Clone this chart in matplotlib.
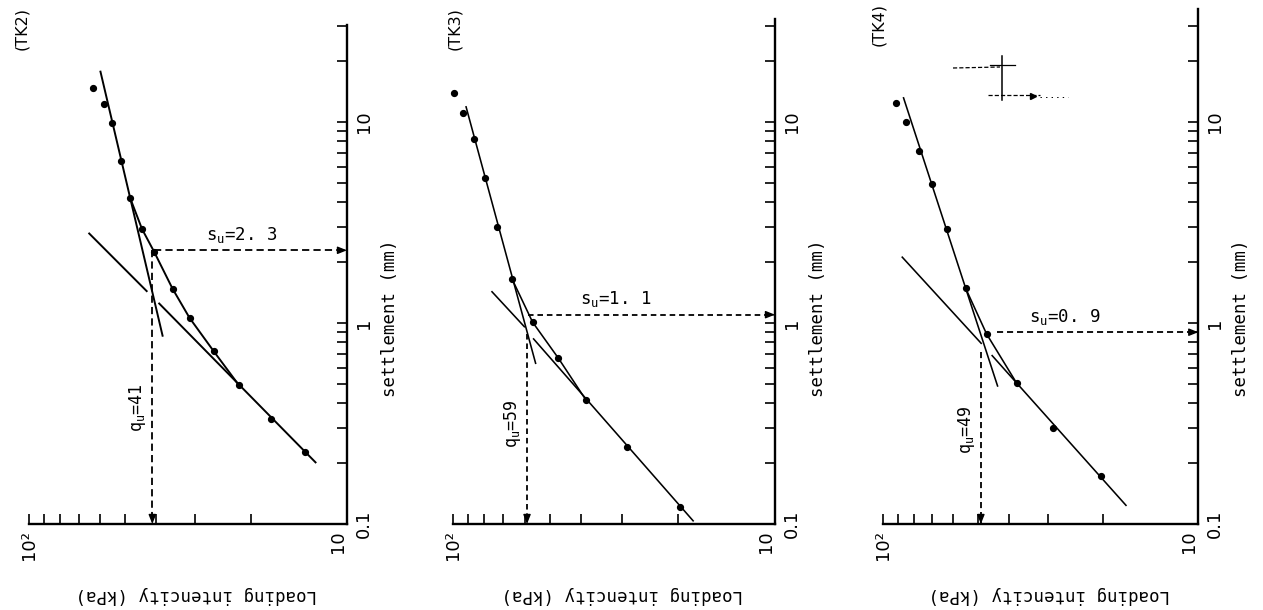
import numpy as np
import matplotlib
matplotlib.use("Agg")
import matplotlib.pyplot as plt
from matplotlib import font_manager as fm
from matplotlib import transforms as mtrans
from matplotlib.lines import Line2D
from matplotlib.ticker import NullFormatter

# ---------------- data ----------------
panel_names = ["(TK2)", "(TK3)", "(TK4)"]

# loading intensity q (kPa) and settlement s (mm) at each loading step
tk2_q = [63.1, 58.4, 55.0, 51.5, 48.1, 44.2, 40.4, 35.4, 31.3, 26.3, 21.9, 17.3, 13.6]
tk2_s = [14.7, 12.3, 9.86, 6.42, 4.17, 2.94, 2.25, 1.48, 1.06, 0.725, 0.491, 0.332, 0.229]
tk3_q = [99.5, 93.6, 86.3, 79.8, 73.1, 65.6, 56.7, 47.1, 38.7, 28.9, 19.8]
tk3_s = [14.0, 11.1, 8.19, 5.25, 3.01, 1.65, 1.01, 0.667, 0.414, 0.241, 0.121]
tk4_q = [91.2, 84.7, 77.1, 70.2, 62.9, 54.8, 47.0, 37.7, 29.0, 20.3]
tk4_s = [12.4, 9.97, 7.20, 4.90, 2.92, 1.49, 0.882, 0.501, 0.299, 0.174]

# straight branch fitted to the large-load steps (end points)
tk2_fit_hi_q = [59.8, 38.0]
tk2_fit_hi_s = [18.0, 0.855]
tk3_fit_hi_q = [91.4, 55.4]
tk3_fit_hi_s = [12.0, 0.625]
tk4_fit_hi_q = [86.4, 43.3]
tk4_fit_hi_s = [13.3, 0.482]

# straight branch fitted to the small-load steps, drawn in two pieces
tk2_fit_lo_q = [[65.1, 42.5], [39.2, 12.5]]
tk2_fit_lo_s = [[2.81, 1.43], [1.26, 0.201]]
tk3_fit_lo_q = [[76.1, 59.9], [56.5, 17.9]]
tk3_fit_lo_s = [[1.44, 0.952], [0.839, 0.103]]
tk4_fit_lo_q = [[87.4, 48.7], [45.3, 16.9]]
tk4_fit_lo_s = [[2.14, 0.787], [0.693, 0.123]]

# steps joined by the transition curve (slice start, stop)
tk2_curve = (4, 11)
tk3_curve = (5, 9)
tk4_curve = (5, 8)

# yield load q_u (kPa) and yield settlement s_u (mm)
qu_values = [41, 59, 49]
su_values = [2.3, 1.1, 0.9]
qu_labels = ["41", "59", "49"]
su_labels = ["2. 3", "1. 1", "0. 9"]
# where the guide lines leave the curves
su_start_q = [40.4, 58.5, 43.6]
qu_start_s = [2.3, 0.88, 0.72]

# settlement axis upper limits
s_top = [30.4, 32.5, 36.4]

q_major = [100, 10]
q_major_labels = ["10\u00b2", "10"]
q_minor = [20, 30, 40, 50, 60, 70, 80, 90]
s_major = [0.1, 1, 10]
s_major_labels = ["0.1", "1", "10"]
s_minor = [0.2, 0.3, 0.4, 0.5, 0.6, 0.7, 0.8, 0.9, 2, 3, 4, 5, 6, 7, 8, 9, 20, 30]

# ---------------- style ----------------
names = {f.name for f in fm.fontManager.ttflist}
NARROW = "Liberation Sans Narrow" if "Liberation Sans Narrow" in names else "DejaVu Sans"
MONO = "DejaVu Sans Mono"
plt.rcParams["mathtext.fontset"] = "custom"
plt.rcParams["mathtext.rm"] = MONO
plt.rcParams["mathtext.it"] = MONO
plt.rcParams["lines.scale_dashes"] = False

W, H = 1263, 610
DEC_PX = 201.0          # pixels per settlement decade
BOTTOM_PX = 524.0       # loading axis position from the top edge
panel_left = [29.3, 453.3, 883.3]
panel_width = [317.7, 321.7, 315.0]
line_w = [1.4, 1.15, 1.15]
dash = [(0, (5.2, 3.0)), (0, (4.0, 2.8)), (0, (4.4, 2.8))]
su_text_q = [21.4, 31.2, 26.5]
qu_text_s = [0.378, 0.314, 0.294]
title_xy = [(22, 29), (455, 29), (879, 24)]

datasets = [
    (tk2_q, tk2_s, tk2_fit_hi_q, tk2_fit_hi_s, tk2_fit_lo_q, tk2_fit_lo_s, tk2_curve),
    (tk3_q, tk3_s, tk3_fit_hi_q, tk3_fit_hi_s, tk3_fit_lo_q, tk3_fit_lo_s, tk3_curve),
    (tk4_q, tk4_s, tk4_fit_hi_q, tk4_fit_hi_s, tk4_fit_lo_q, tk4_fit_lo_s, tk4_curve),
]

fig = plt.figure(figsize=(W / 100, H / 100), dpi=100)
fig.patch.set_facecolor("white")

for i, (q, s, hq, hs, lq, ls, crv) in enumerate(datasets):
    height_px = DEC_PX * np.log10(s_top[i] / 0.1)
    ax = fig.add_axes([panel_left[i] / W, (H - BOTTOM_PX) / H,
                       panel_width[i] / W, height_px / H])
    ax.set_xscale("log")
    ax.set_yscale("log")
    ax.set_xlim(100, 10)
    ax.set_ylim(0.1, s_top[i])
    ax.patch.set_alpha(0)
    for side in ("left", "top"):
        ax.spines[side].set_visible(False)
    for side in ("right", "bottom"):
        ax.spines[side].set_linewidth(1.7)

    # ticks
    ax.yaxis.tick_right()
    ax.set_xticks(q_major)
    ax.set_xticklabels(q_major_labels)
    ax.set_xticks(q_minor, minor=True)
    ax.xaxis.set_minor_formatter(NullFormatter())
    ax.set_yticks(s_major)
    ax.set_yticklabels(s_major_labels)
    ax.set_yticks([v for v in s_minor if v <= s_top[i]], minor=True)
    ax.yaxis.set_minor_formatter(NullFormatter())
    ax.tick_params(which="both", direction="in", length=7, width=1.2,
                   top=False, left=False, colors="black")
    ax.tick_params(axis="x", which="major", pad=4.5, labelsize=13, labelrotation=90)
    ax.tick_params(axis="y", which="major", pad=5.5, labelsize=13, labelrotation=90,
                   right=True, labelright=True, labelleft=False)
    for lbl in ax.get_xticklabels() + ax.get_yticklabels():
        lbl.set_fontfamily(NARROW)
    ax.get_xticklabels()[1].set_ha("right")
    for lbl in ax.get_yticklabels():
        lbl.set_va("center")

    # measured steps, fitted branches and transition curve
    ax.plot(q, s, "o", ms=4.2, color="black", zorder=5, clip_on=False)
    ax.plot(hq, hs, color="black", lw=line_w[i], solid_capstyle="butt")
    for seg_q, seg_s in zip(lq, ls):
        ax.plot(seg_q, seg_s, color="black", lw=line_w[i], solid_capstyle="butt")
    a, b = crv
    ax.plot(q[a:b], s[a:b], color="black", lw=line_w[i])

    # guide lines for s_u and q_u
    ax.plot([su_start_q[i], 10], [su_values[i], su_values[i]], color="black",
            lw=1.3, linestyle=dash[i], clip_on=False)
    ax.plot([qu_values[i], qu_values[i]], [qu_start_s[i], 0.1], color="black",
            lw=1.3, linestyle=dash[i], clip_on=False)
    head = dict(arrowstyle="-|>,head_length=0.55,head_width=0.22", color="black",
                lw=1.0, shrinkA=0, shrinkB=0)
    ax.annotate("", xy=(10, su_values[i]), xytext=(-7, 0), textcoords="offset points",
                arrowprops=head, annotation_clip=False)
    ax.annotate("", xy=(qu_values[i], 0.1), xytext=(0, 7), textcoords="offset points",
                arrowprops=head, annotation_clip=False)

    ax.annotate(r"$\mathrm{s_u}$=" + su_labels[i], xy=(su_text_q[i], su_values[i]),
                xytext=(0, 4), textcoords="offset points", ha="center", va="bottom",
                fontsize=12.5, family=MONO)
    ax.annotate(r"$\mathrm{q_u}$=" + qu_labels[i], xy=(qu_values[i], qu_text_s[i]),
                xytext=(-3, 0), textcoords="offset points", ha="right", va="center",
                rotation=90, fontsize=12, family=MONO)

    # axis titles
    ax.text(0.5, 0, "Loading intencity (kPa)",
            transform=mtrans.offset_copy(ax.transAxes, fig, x=8, y=-71, units="dots"),
            rotation=180, ha="center", va="center", fontsize=12.5, family=MONO)
    blend = mtrans.blended_transform_factory(ax.transAxes, ax.transData)
    ax.text(1, 1.06, "settlement (mm)",
            transform=mtrans.offset_copy(blend, fig, x=43, y=0, units="dots"),
            rotation=90, ha="center", va="center", fontsize=12.5, family=MONO)

    fig.text(title_xy[i][0] / W, 1 - title_xy[i][1] / H, panel_names[i],
             rotation=90, ha="center", va="center", fontsize=11.5, family=NARROW)

# faint crossed guide marks printed in the upper part of the TK4 panel (pixel positions)
def fig_line(xs, ys, **kw):
    fig.add_artist(Line2D([x / W for x in xs], [1 - y / H for y in ys],
                          transform=fig.transFigure, color="black", **kw))

fig_line([953, 1000], [68, 67], lw=0.9, linestyle=(0, (3, 1.5)))
fig_line([990, 1015], [65, 65], lw=0.9)
fig_line([1002, 1002], [56, 100], lw=1.1)
fig_line([988, 1040], [95, 95], lw=0.9, linestyle=(0, (3, 1.5)))
fig_line([1040, 1068], [97, 97], lw=0.7, linestyle=(0, (1, 3)))
fig.add_artist(Line2D([1033 / W], [1 - 96 / H], transform=fig.transFigure,
                      marker=">", ms=4, color="black", lw=0))

fig.savefig("out.png", dpi=100, facecolor="white")
